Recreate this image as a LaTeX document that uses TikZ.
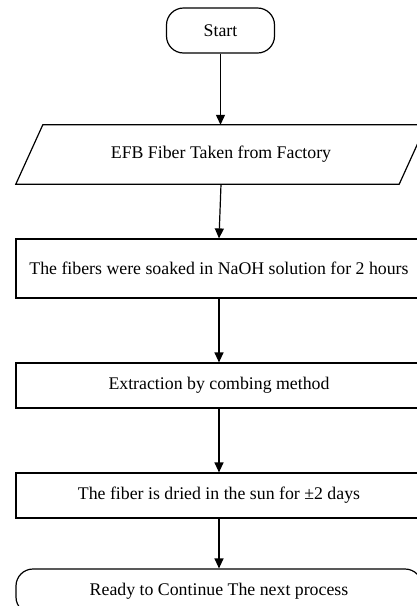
\documentclass[tikz,border=0pt]{standalone}
\usepackage{fontspec}
\setmainfont{Liberation Serif}
\usetikzlibrary{arrows.meta}
\begin{document}
\begin{tikzpicture}[x=1pt,y=1pt,
  every node/.style={font=\fontsize{17.8}{20}\selectfont, inner sep=0pt},
  line/.style={line width=1.2pt},
  flow/.style={line, -{Triangle[width=9pt,length=10pt]}},
  procbox/.style={draw, line width=1.2pt, minimum width=406pt},
  termbox/.style={draw, line width=1.2pt, rounded corners=17pt}]
\useasboundingbox (0,0) rectangle (417,-606);
\clip (0,0) rectangle (417,-606);
\fill[white] (0,0) rectangle (417,-606);

\node[termbox, minimum width=108pt, minimum height=45pt] (start) at (220.5,-30.5) {Start};

\node[minimum width=383pt, minimum height=59pt] (in) at (221,-154.5) {EFB Fiber Taken from Factory};
\draw[line] ([xshift=-13.5pt]in.south west) -- ([xshift=-13.5pt]in.south east)
  -- ([xshift=13.5pt]in.north east) -- ([xshift=13.5pt]in.north west) -- cycle;

\node[procbox, minimum height=59pt] (b1) at (219,-268.5) {The fibers were soaked in NaOH solution for 2 hours};
\node[procbox, minimum height=45pt] (b2) at (219,-385.5) {Extraction by combing method};
\node[procbox, minimum height=45pt] (b3) at (219,-495.5) {The fiber is dried in the sun for ±2 days};
\node[termbox, minimum width=406pt, minimum height=45pt] (end) at (219,-591.5) {Ready to Continue The next process};

\draw[flow] (start.south) -- (start.south |- in.north);
\draw[flow] (in.south) -- (b1.north);
\draw[flow] (b1.south) -- (b2.north);
\draw[flow] (b2.south) -- (b3.north);
\draw[flow] (b3.south) -- (end.north);
\end{tikzpicture}
\end{document}
